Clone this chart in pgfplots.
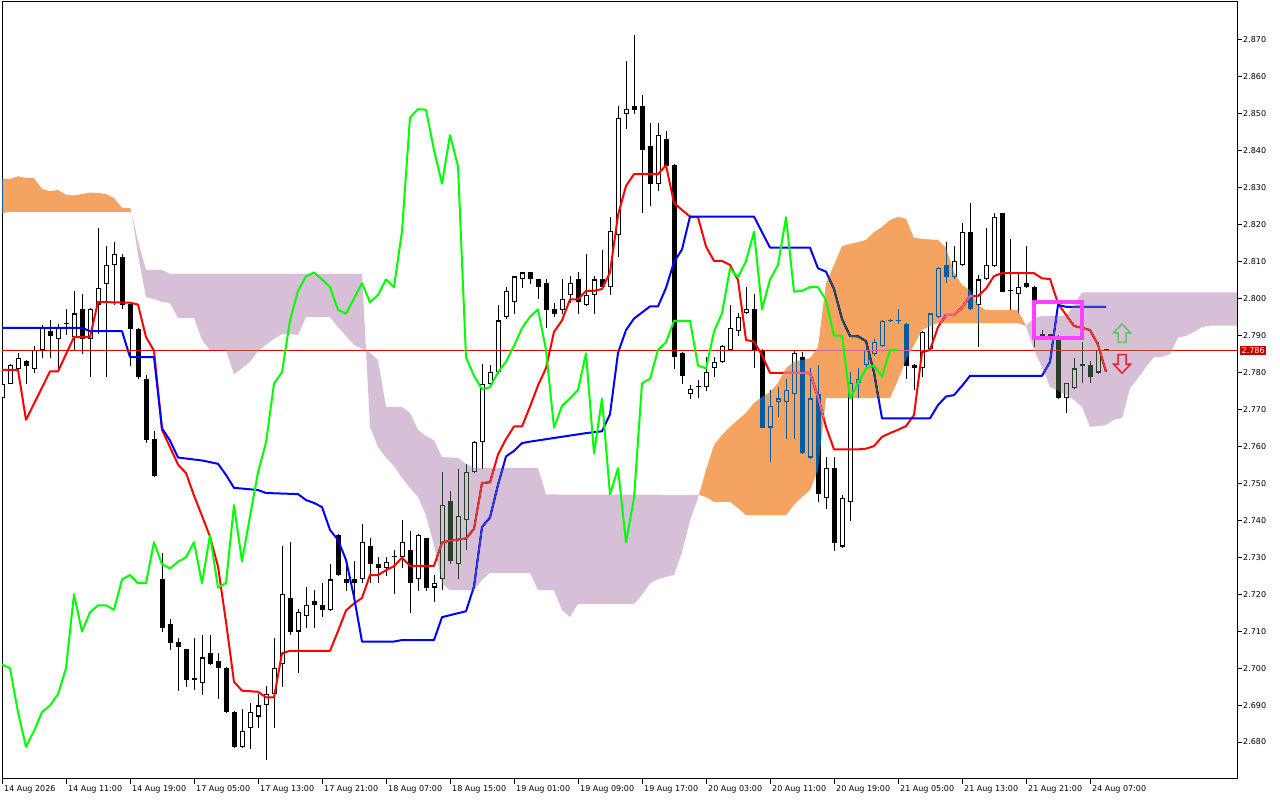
\documentclass[border=0pt]{standalone}
\usepackage{fontspec}
\setmainfont{DejaVu Sans}
\usepackage{pgfplots}
\usepackage{pgfplotstable}
\pgfplotsset{compat=1.18}

\definecolor{tenkan}{RGB}{255,0,0}
\definecolor{kijun}{RGB}{0,0,255}
\definecolor{chikou}{RGB}{0,255,0}
\definecolor{bidred}{RGB}{230,0,0}
\definecolor{bidbox}{RGB}{200,0,0}
% cloud colours are drawn in difference mode: these are the complements
% of sandy brown (244,164,96) and thistle (216,191,216)
\definecolor{kumoupx}{RGB}{11,91,159}
\definecolor{kumodnx}{RGB}{39,64,39}
\definecolor{boxmag}{RGB}{255,64,255}
\definecolor{arrowgreen}{RGB}{90,200,90}
\definecolor{arrowred}{RGB}{235,30,50}

\pgfdeclareplotmark{hollowup}{%
  \pgfpathmoveto{\pgfpoint{0pt}{9.5pt}}%
  \pgfpathlineto{\pgfpoint{8.5pt}{0.5pt}}%
  \pgfpathlineto{\pgfpoint{4pt}{0.5pt}}%
  \pgfpathlineto{\pgfpoint{4pt}{-9pt}}%
  \pgfpathlineto{\pgfpoint{-4pt}{-9pt}}%
  \pgfpathlineto{\pgfpoint{-4pt}{0.5pt}}%
  \pgfpathlineto{\pgfpoint{-8.5pt}{0.5pt}}%
  \pgfpathclose
  \pgfusepathqstroke}
\pgfdeclareplotmark{hollowdown}{%
  \pgfpathmoveto{\pgfpoint{0pt}{-9.5pt}}%
  \pgfpathlineto{\pgfpoint{8.5pt}{-0.5pt}}%
  \pgfpathlineto{\pgfpoint{4pt}{-0.5pt}}%
  \pgfpathlineto{\pgfpoint{4pt}{9pt}}%
  \pgfpathlineto{\pgfpoint{-4pt}{9pt}}%
  \pgfpathlineto{\pgfpoint{-4pt}{-0.5pt}}%
  \pgfpathlineto{\pgfpoint{-8.5pt}{-0.5pt}}%
  \pgfpathclose
  \pgfusepathqstroke}

% H1 candles, bar index x
\pgfplotstableread{
x o h l c
0 2.7730 2.7775 2.7725 2.7770
1 2.7770 2.7822 2.7768 2.7820
2 2.7810 2.7853 2.7805 2.7840
3 2.7832 2.7835 2.7770 2.7819
4 2.7810 2.7873 2.7800 2.7860
5 2.7860 2.7929 2.7840 2.7921
6 2.7913 2.7942 2.7840 2.7900
7 2.7891 2.7931 2.7807 2.7921
8 2.7934 2.7973 2.7901 2.7931
9 2.7896 2.8021 2.7859 2.7960
10 2.7973 2.8013 2.7851 2.7891
11 2.7891 2.7975 2.7789 2.7973
12 2.7984 2.8192 2.7905 2.8030
13 2.8040 2.8143 2.7789 2.8090
14 2.8090 2.8152 2.7984 2.8120
15 2.8112 2.8120 2.7971 2.7982
16 2.7986 2.7988 2.7819 2.7918
17 2.7918 2.7920 2.7782 2.7789
18 2.7782 2.7792 2.7609 2.7618
19 2.7620 2.7643 2.7517 2.7519
20 2.7242 2.7312 2.7099 2.7108
21 2.7120 2.7132 2.7050 2.7068
22 2.7071 2.7081 2.6938 2.7057
23 2.7051 2.7053 2.6950 2.6969
24 2.6972 2.7081 2.6941 2.6969
25 2.6959 2.7090 2.6927 2.7029
26 2.7040 2.7090 2.7008 2.7010
27 2.7019 2.7040 2.6917 2.7000
28 2.7000 2.7002 2.6879 2.6881
29 2.6881 2.6883 2.6785 2.6787
30 2.6787 2.6889 2.6785 2.6830
31 2.6839 2.6905 2.6780 2.6881
32 2.6869 2.6930 2.6839 2.6899
33 2.6899 2.6952 2.6751 2.6929
34 2.6929 2.7081 2.6839 2.7000
35 2.7010 2.7331 2.6950 2.7200
36 2.7189 2.7341 2.7090 2.7099
37 2.7099 2.7160 2.6988 2.7151
38 2.7140 2.7219 2.7109 2.7170
39 2.7182 2.7211 2.7109 2.7170
40 2.7170 2.7230 2.7139 2.7158
41 2.7158 2.7281 2.7156 2.7240
42 2.7360 2.7362 2.7250 2.7252
43 2.7240 2.7284 2.7210 2.7230
44 2.7240 2.7290 2.7193 2.7230
45 2.7240 2.7390 2.7230 2.7341
46 2.7330 2.7351 2.7230 2.7281
47 2.7281 2.7300 2.7230 2.7270
48 2.7270 2.7300 2.7249 2.7288
49 2.7303 2.7320 2.7200 2.7300
50 2.7300 2.7401 2.7270 2.7341
51 2.7320 2.7371 2.7150 2.7230
52 2.7240 2.7362 2.7210 2.7360
53 2.7351 2.7352 2.7210 2.7218
54 2.7218 2.7252 2.7180 2.7230
55 2.7240 2.7530 2.7211 2.7441
56 2.7451 2.7480 2.7281 2.7289
57 2.7281 2.7540 2.7242 2.7411
58 2.7400 2.7553 2.7320 2.7530
59 2.7530 2.7615 2.7528 2.7611
60 2.7611 2.7822 2.7540 2.7770
61 2.7770 2.7820 2.7765 2.7801
62 2.7801 2.7983 2.7795 2.7941
63 2.7951 2.8031 2.7945 2.8021
64 2.7990 2.8062 2.7959 2.8060
65 2.8052 2.8072 2.8029 2.8071
66 2.8071 2.8073 2.8040 2.8052
67 2.8052 2.8054 2.7998 2.8031
68 2.8042 2.8052 2.7920 2.7970
69 2.7972 2.7988 2.7951 2.7959
70 2.7970 2.8052 2.7959 2.8000
71 2.8010 2.8060 2.7988 2.8042
72 2.8052 2.8071 2.7959 2.7990
73 2.7983 2.8120 2.7980 2.8010
74 2.8010 2.8060 2.7959 2.8052
75 2.8052 2.8131 2.8029 2.8031
76 2.8031 2.8221 2.8010 2.8183
77 2.8172 2.8521 2.8112 2.8490
78 2.8500 2.8642 2.8459 2.8513
79 2.8521 2.8713 2.8500 2.8511
80 2.8521 2.8552 2.8231 2.8402
81 2.8412 2.8475 2.8252 2.8311
82 2.8311 2.8475 2.8290 2.8443
83 2.8433 2.8454 2.8350 2.8358
84 2.8363 2.8365 2.7810 2.7841
85 2.7853 2.7855 2.7770 2.7791
86 2.7741 2.7765 2.7729 2.7755
87 2.7763 2.7780 2.7730 2.7760
88 2.7760 2.7841 2.7751 2.7801
89 2.7811 2.7843 2.7789 2.7829
90 2.7829 2.7875 2.7827 2.7872
91 2.7861 2.7983 2.7858 2.7920
92 2.7912 2.7962 2.7899 2.7951
93 2.7960 2.8031 2.7958 2.7971
94 2.7971 2.8013 2.7811 2.7861
95 2.7861 2.7863 2.7649 2.7651
96 2.7651 2.7753 2.7559 2.7710
97 2.7719 2.7760 2.7681 2.7730
98 2.7719 2.7783 2.7619 2.7753
99 2.7741 2.7861 2.7619 2.7852
100 2.7841 2.7855 2.7579 2.7581
101 2.7570 2.7811 2.7565 2.7730
102 2.7741 2.7820 2.7450 2.7470
103 2.7460 2.7571 2.7430 2.7541
104 2.7541 2.7571 2.7318 2.7340
105 2.7329 2.7469 2.7325 2.7460
106 2.7450 2.7801 2.7399 2.7771
107 2.7771 2.7811 2.7730 2.7783
108 2.7820 2.7873 2.7815 2.7861
109 2.7850 2.7890 2.7845 2.7882
110 2.7872 2.7942 2.7869 2.7940
111 2.7943 2.7945 2.7938 2.7940
112 2.7943 2.7971 2.7931 2.7940
113 2.7931 2.7933 2.7782 2.7819
114 2.7820 2.7822 2.7753 2.7811
115 2.7811 2.7913 2.7789 2.7911
116 2.7863 2.7962 2.7860 2.7960
117 2.7951 2.8085 2.7948 2.8082
118 2.8091 2.8154 2.8042 2.8058
119 2.8059 2.8142 2.8052 2.8102
120 2.8091 2.8204 2.8088 2.8181
121 2.8181 2.8260 2.7968 2.7971
122 2.7983 2.8064 2.7870 2.8052
123 2.8052 2.8190 2.8050 2.8091
124 2.8088 2.8231 2.8085 2.8220
125 2.8231 2.8233 2.8017 2.8019
126 2.8024 2.8161 2.7969 2.8021
127 2.8012 2.8073 2.7960 2.8031
128 2.8042 2.8142 2.8028 2.8031
129 2.8031 2.8033 2.7870 2.7996
130 2.7903 2.7916 2.7898 2.7900
131 2.7903 2.7905 2.7898 2.7900
132 2.7900 2.7902 2.7728 2.7730
133 2.7730 2.7773 2.7690 2.7771
134 2.7757 2.7839 2.7755 2.7811
135 2.7822 2.7883 2.7771 2.7819
136 2.7820 2.7831 2.7771 2.7789
137 2.7800 2.7883 2.7797 2.7861
138 2.7863 2.7863 2.7860 2.7860
}\candles

% Tenkan-sen (9)
\pgfplotstableread{
x y
0 2.7807
2 2.7807
3 2.7672
6 2.7803
7 2.7803
9 2.7896
11 2.7896
12 2.7991
16 2.7989
17 2.7984
18 2.7896
19 2.7859
20 2.7645
22 2.7551
23 2.7528
24 2.7467
25 2.7412
26 2.7356
27 2.7275
28 2.7125
29 2.6963
30 2.6939
32 2.6936
33 2.6921
34 2.6921
35 2.7040
36 2.7047
41 2.7047
42 2.7100
43 2.7156
44 2.7175
45 2.7190
46 2.7252
47 2.7252
48 2.7265
49 2.7276
50 2.7299
51 2.7277
54 2.7277
55 2.7340
56 2.7345
58 2.7351
59 2.7377
60 2.7501
61 2.7503
62 2.7578
63 2.7620
64 2.7654
65 2.7654
66 2.7708
67 2.7765
68 2.7812
69 2.7910
70 2.7941
71 2.7998
72 2.7998
73 2.8021
74 2.8021
75 2.8026
76 2.8071
77 2.8226
78 2.8305
79 2.8337
82 2.8337
83 2.8361
84 2.8259
85 2.8240
86 2.8222
87 2.8220
88 2.8141
89 2.8102
90 2.8102
91 2.8091
92 2.8050
93 2.7888
94 2.7884
95 2.7847
96 2.7799
101 2.7799
102 2.7734
103 2.7653
104 2.7592
107 2.7592
108 2.7594
109 2.7601
110 2.7626
111 2.7636
112 2.7645
113 2.7655
114 2.7685
115 2.7855
116 2.7861
117 2.7923
118 2.7956
119 2.7956
120 2.7976
121 2.8007
122 2.8007
123 2.8027
124 2.8061
125 2.8069
129 2.8069
130 2.8055
131 2.8053
132 2.7987
133 2.7956
134 2.7926
135 2.7921
136 2.7915
137 2.7875
138 2.7802
}\tenkan

% Kijun-sen (26)
\pgfplotstableread{
x y
0 2.7921
10 2.7921
11 2.7912
15 2.7912
16 2.7842
19 2.7842
20 2.7649
21 2.7616
22 2.7570
25 2.7562
27 2.7553
28 2.7523
29 2.7488
32 2.7482
33 2.7474
37 2.7471
38 2.7455
39 2.7447
40 2.7436
41 2.7374
42 2.7347
43 2.7293
44 2.7193
45 2.7072
49 2.7072
50 2.7076
54 2.7076
55 2.7138
58 2.7154
59 2.7221
60 2.7382
61 2.7408
62 2.7496
63 2.7573
64 2.7588
65 2.7609
66 2.7613
73 2.7636
75 2.7641
76 2.7687
77 2.7853
78 2.7915
79 2.7946
81 2.7979
82 2.7979
83 2.8029
84 2.8099
85 2.8133
86 2.8222
94 2.8222
95 2.8180
96 2.8138
101 2.8138
102 2.8082
103 2.8073
104 2.8026
105 2.7945
106 2.7899
107 2.7898
108 2.7885
109 2.7800
110 2.7676
116 2.7676
117 2.7712
118 2.7735
119 2.7739
120 2.7764
121 2.7791
130 2.7791
131 2.7829
132 2.7983
133 2.7978
138 2.7978
}\kijun

\begin{document}
\begin{tikzpicture}
\useasboundingbox (0,0) rectangle (1280pt,800pt);
\fill[white] (0,0) rectangle (1280pt,800pt);
\begin{axis}[
    at={(2pt,21pt)}, anchor=south west,
    scale only axis,
    width=1235pt, height=777pt,
    xmin=0, xmax=154.375,
    ymin=2.670, ymax=2.88028,
    axis line style={black, line width=1pt},
    tick align=outside,
    major tick length=5pt,
    tick style={black, line width=1pt},
    xtick pos=left, ytick pos=right,
    yticklabel pos=right,
    xtick={0,8,...,136},
    xticklabels={14 Aug 2026, 14 Aug 11:00, 14 Aug 19:00, 17 Aug 05:00,
        17 Aug 13:00, 17 Aug 21:00, 18 Aug 07:00, 18 Aug 15:00,
        19 Aug 01:00, 19 Aug 09:00, 19 Aug 17:00, 20 Aug 03:00,
        20 Aug 11:00, 20 Aug 19:00, 21 Aug 05:00, 21 Aug 13:00,
        21 Aug 21:00, 24 Aug 07:00},
    ytick={2.68,2.69,2.70,2.71,2.72,2.73,2.74,2.75,2.76,2.77,
        2.78,2.79,2.80,2.81,2.82,2.83,2.84,2.85,2.86,2.87},
    /pgf/number format/assume math mode=true,
    /pgf/number format/fixed,
    /pgf/number format/fixed zerofill,
    /pgf/number format/precision=3,
    ticklabel style={font=\fontsize{8}{9}\selectfont},
    yticklabel style={anchor=west, inner sep=0pt, xshift=1pt},
    xticklabel style={anchor=north west, inner sep=0pt, xshift=2pt, yshift=-1pt},
    extra y ticks={2.786},
    extra y tick labels={2.786},
    extra y tick style={major tick length=0pt,
        yticklabel style={fill=bidbox, text=white, inner xsep=1.5pt, inner ysep=1.5pt, xshift=2pt}},
]

% candle wicks
\addplot [draw=none, mark=none, forget plot,
    error bars/.cd, y dir=plus, y explicit, error mark=none,
    error bar style={draw=black, line width=1pt}]
    table [x=x, y=l, y error expr=\thisrow{h}-\thisrow{l}] {\candles};
% candle bodies, outline
\addplot [draw=none, mark=none, forget plot,
    error bars/.cd, y dir=plus, y explicit, error mark=none,
    error bar style={draw=black, line width=5pt}]
    table [x=x, y expr={min(\thisrow{o},\thisrow{c})},
           y error expr={abs(\thisrow{c}-\thisrow{o})}] {\candles};
% hollow inside of the up candles
\addplot [draw=none, mark=none, forget plot,
    error bars/.cd, y dir=plus, y explicit, error mark=none,
    error bar style={draw=white, line width=3pt}]
    table [x=x, y expr={\thisrow{o}+0.0003},
           y error expr={(\thisrow{c}>\thisrow{o})*(\thisrow{c}-\thisrow{o}-0.0006)}] {\candles};

\addplot [tenkan, line width=2pt, line join=round] table [x=x, y=y] {\tenkan};
\addplot [kijun, line width=2pt, line join=round] table [x=x, y=y] {\kijun};
\addplot [bidred, line width=1pt] coordinates {(0,2.786) (154.375,2.786)};

% kumo pieces: senkou span A and B, 26 bars ahead (upper edge, then lower edge back)
\addplot [fill=kumoupx, draw=none, blend mode=difference] coordinates {
    (0,2.8324) (1,2.8324) (2,2.8331) (3,2.8327) (4,2.8326) (5,2.8297) (6,2.8291)
    (7,2.8294) (8,2.8281) (9,2.8279) (10,2.8283) (11,2.8287) (12,2.8286) (13,2.8283)
    (14,2.8272) (15,2.8246) (16,2.8245) (16.21,2.8233)
    (16,2.8235) (1,2.8235) (0,2.8231)};
\addplot [fill=kumodnx, draw=none, blend mode=difference] coordinates {
    (16.21,2.8233) (17,2.8155) (18,2.8078) (20,2.8078) (21,2.8067) (45,2.8067)
    (45.5,2.7863) (46,2.7853) (47,2.7834) (48,2.7707) (50,2.7707) (51,2.7691)
    (52,2.7645) (53,2.7628) (54,2.7617) (55,2.7571) (57,2.7569) (58,2.7553)
    (59,2.7542) (67,2.7542) (68,2.7470) (87.12,2.7469)
    (87,2.7460) (86,2.7400) (85,2.7314) (84,2.7252) (83,2.7247) (82,2.7241)
    (81,2.7230) (80,2.7198) (79,2.7174) (72,2.7174) (71,2.7138) (70,2.7157)
    (69,2.7211) (67,2.7211) (66,2.7258) (61,2.7258) (60,2.7239) (59,2.7211)
    (56,2.7211) (55,2.7230) (54,2.7333) (53,2.7414) (52,2.7463) (51,2.7488)
    (50,2.7515) (49,2.7547) (48,2.7569) (47,2.7599) (46,2.7653) (45.5,2.7860)
    (45,2.7864) (44,2.7875) (43,2.7899) (42,2.7923) (41,2.7950) (38,2.7950)
    (37,2.7902) (36,2.7904) (35,2.7904) (34,2.7891) (33,2.7875) (32,2.7858)
    (31,2.7829) (30,2.7812) (29,2.7795) (28,2.7861) (26,2.7861) (25,2.7888)
    (24,2.7948) (22,2.7948) (21,2.7988) (20,2.7991) (19,2.7999) (18,2.8004)
    (17,2.8118)};
\addplot [fill=kumoupx, draw=none, blend mode=difference] coordinates {
    (87.12,2.7469) (88,2.7536) (89,2.7604) (90,2.7631) (91,2.7653) (92,2.7672)
    (93,2.7691) (94,2.7718) (95,2.7734) (96,2.7747) (97,2.7772) (98,2.7812)
    (99,2.7829) (100,2.7834) (101,2.7839) (102,2.7869) (103,2.8042) (104,2.8091)
    (105,2.8142) (106,2.8148) (107,2.8153) (108,2.8159) (109,2.8180) (110,2.8194)
    (111,2.8213) (112,2.8221) (113,2.8216) (114,2.8164) (115,2.8162) (116,2.8160)
    (117,2.8159) (118,2.8137) (119,2.8072) (120,2.8037) (121,2.8023) (122,2.7983)
    (123,2.7969) (127,2.7969) (128,2.7926)
    (127,2.7934) (117,2.7934) (116,2.7926) (115,2.7915) (114,2.7874) (113,2.7834)
    (112,2.7780) (111,2.7731) (103,2.7731) (102,2.7536) (101,2.7482) (100,2.7463)
    (99,2.7442) (98,2.7414) (93,2.7414) (92,2.7433) (91,2.7450) (89,2.7450)
    (88,2.7463)};
\addplot [fill=kumodnx, draw=none, blend mode=difference] coordinates {
    (128,2.7926) (129,2.7948) (130,2.7953) (133,2.7953) (134,2.7983) (135,2.8017)
    (155,2.8017)
    (155,2.7927) (151,2.7927) (150,2.7923) (149,2.7910) (148,2.7899) (147,2.7894)
    (146,2.7850) (145,2.7842) (144,2.7842) (143,2.7815) (142,2.7785) (141,2.7758)
    (140,2.7677) (139,2.7672) (138,2.7658) (137,2.7655) (136,2.7653) (135,2.7707)
    (134,2.7726) (133,2.7739) (132,2.7750) (131,2.7761) (130,2.7815) (129,2.7861)};

% chikou span: close moved 26 bars back
\addplot [chikou, line width=2pt, line join=round]
    table [x expr=\thisrow{x}-26, y=c] {\candles};

% rectangle and arrow objects
\addplot [boxmag, line width=4pt, line join=miter, line cap=rect]
    coordinates {(129.04,2.7991) (135.0,2.7991) (135.0,2.7894) (129.04,2.7894) (129.04,2.7991)};
\addplot [only marks, mark=hollowup,
    mark options={draw=arrowgreen, line width=1.5pt}] coordinates {(140,2.7906)};
\addplot [only marks, mark=hollowdown,
    mark options={draw=arrowred, line width=1.5pt}] coordinates {(140,2.7824)};
\end{axis}
\end{tikzpicture}
\end{document}
